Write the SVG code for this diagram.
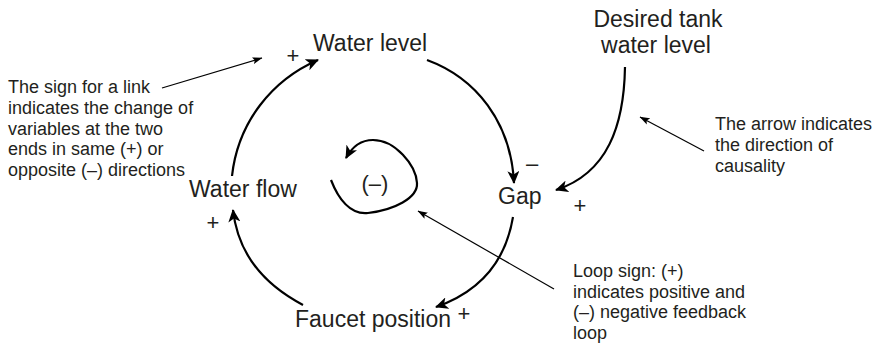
<svg xmlns="http://www.w3.org/2000/svg" width="874" height="347" viewBox="0 0 874 347">
<defs>
<style>
text{font-family:"Liberation Sans",Arial,sans-serif;fill:#231f20}
.node{font-size:23px}
.sign{font-size:22px;text-anchor:middle}
.note{font-size:18px}
.link{fill:none;stroke:#000;stroke-width:2.2;marker-end:url(#ah)}
.ann{fill:none;stroke:#000;stroke-width:1.2;marker-end:url(#ah2)}
</style>
<marker id="ah" markerUnits="userSpaceOnUse" viewBox="0 0 14 12" refX="12" refY="6" markerWidth="14" markerHeight="12" orient="auto">
<path d="M0,0 L13,6 L0,12 L3.5,6 z" fill="#000"/>
</marker>
<marker id="ah2" markerUnits="userSpaceOnUse" viewBox="0 0 10 8" refX="9.5" refY="4" markerWidth="10" markerHeight="8" orient="auto">
<path d="M0,0.5 L10,4 L0,7.5 L2,4 z" fill="#000"/>
</marker>
</defs>
<rect width="874" height="347" fill="#fff"/>
<g id="connectors">
<path class="link" d="M232,176 C238,122 272,80 318,60"/>
<path class="link" d="M427,60 C476,78 511,122 514,183"/>
<path class="link" d="M513,217 C505,265 476,293 436,307"/>
<path class="link" d="M303,305 C265,285 238,255 233,210"/>
<path class="link" d="M625,67 C624,125 608,173 556,190"/>
<path id="loop" class="link" d="M331,180 C338,198 350,215 368,213 C394,210 418,198 417,183 C416,165 395,140 373,140 C360,140 352,147 346,158"/>
<path class="ann" d="M162,88 L262,58"/>
<path class="ann" d="M704,151 L640,117"/>
<path class="ann" d="M554,289 L418,211"/>
</g>
<g id="water-level"><text class="node" x="313" y="51">Water level</text></g>
<g id="gap"><text class="node" x="498" y="204">Gap</text></g>
<g id="water-flow"><text class="node" x="189" y="197">Water flow</text></g>
<g id="faucet-position"><text class="node" x="295" y="327">Faucet position</text></g>
<g id="desired-level"><text class="node" text-anchor="middle" x="658" y="27">Desired tank</text><text class="node" text-anchor="middle" x="656" y="53">water level</text></g>
<g id="loop-sign"><text x="375" y="191" font-size="22" text-anchor="middle">(–)</text></g>
<g id="signs">
<text class="sign" x="293" y="63">+</text>
<text class="sign" x="532" y="171">–</text>
<text class="sign" x="580" y="213">+</text>
<text class="sign" x="213" y="230">+</text>
<text class="sign" x="464" y="321">+</text>
</g>
<g id="note-sign">
<text class="note" x="8" y="93">The sign for a link</text>
<text class="note" x="8" y="113.8">indicates the change of</text>
<text class="note" x="8" y="134.6">variables at the two</text>
<text class="note" x="8" y="155.4">ends in same (+) or</text>
<text class="note" x="8" y="176.2">opposite (–) directions</text>
</g>
<g id="note-arrow">
<text class="note" x="715" y="130">The arrow indicates</text>
<text class="note" x="715" y="151">the direction of</text>
<text class="note" x="715" y="172">causality</text>
</g>
<g id="note-loop">
<text class="note" x="573" y="277">Loop sign: (+)</text>
<text class="note" x="573" y="297.5">indicates positive and</text>
<text class="note" x="573" y="318">(–) negative feedback</text>
<text class="note" x="573" y="338.5">loop</text>
</g>
</svg>
